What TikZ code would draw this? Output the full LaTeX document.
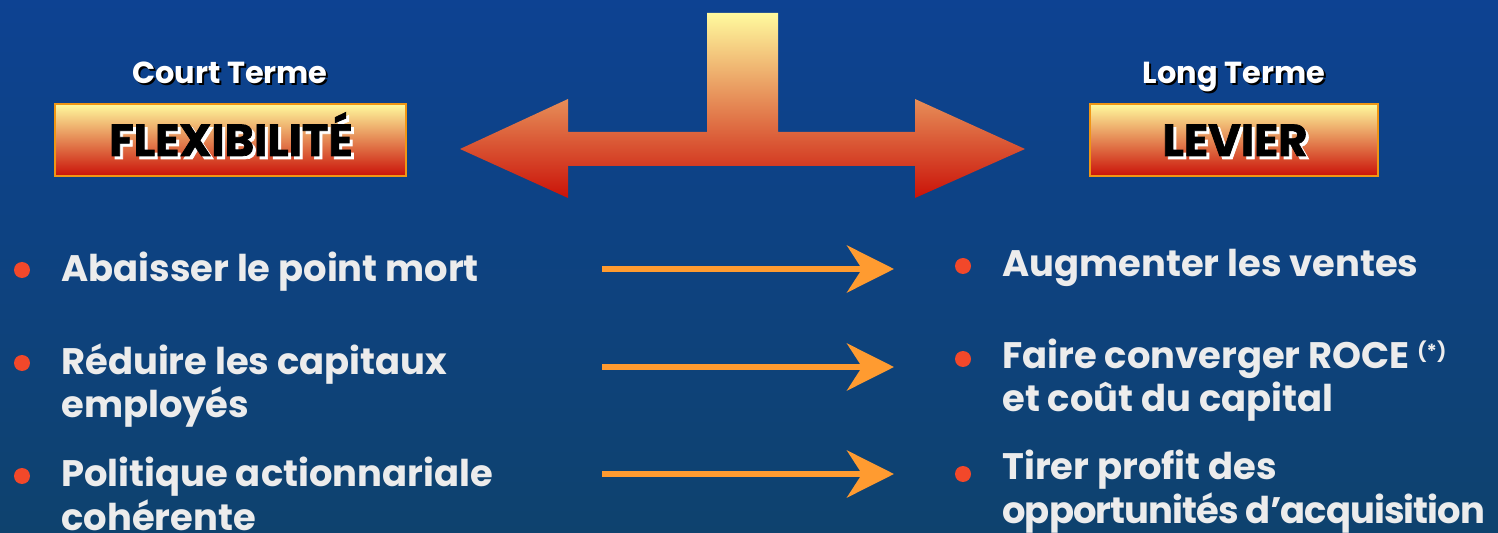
\documentclass[tikz,border=0pt]{standalone}
\usepackage{fontspec}
\setmainfont{Poppins}
\usetikzlibrary{arrows.meta}

\begin{document}
\begin{tikzpicture}[x=0.02cm,y=-0.02cm]
  \definecolor{cbgtop}{RGB}{13,66,146}
  \definecolor{cbgmid}{RGB}{16,86,158}
  \definecolor{cbgbot}{RGB}{14,66,110}
  \definecolor{cyel}{RGB}{255,250,158}
  \definecolor{corg}{RGB}{236,170,105}
  \definecolor{cred}{RGB}{202,18,8}
  \definecolor{cframe}{RGB}{240,150,20}
  \definecolor{carrow}{RGB}{255,155,48}
  \definecolor{cdot}{RGB}{242,72,42}
  \definecolor{ctext}{RGB}{236,236,236}
  \tikzset{
    termbox/.style={draw=cframe,line width=0.04cm,top color=cyel,middle color=corg,
      bottom color=cred,minimum height=1.44cm,inner sep=0pt},
    boxlbl/.style={anchor=base,font=\fontsize{25.5}{28}\selectfont\bfseries\addfontfeature{FakeBold=1.5}},
    headlbl/.style={anchor=base,font=\fontsize{17.3}{22}\selectfont\bfseries},
    dot/.style={circle,fill=cdot,minimum size=0.32cm,inner sep=0pt},
    item/.style={anchor=base west,align=left,text=ctext,inner sep=0pt,
      font=\fontsize{21}{25}\selectfont\bfseries},
    linkarrow/.style={carrow,line width=0.12cm,
      -{Stealth[length=0.94cm,width=0.94cm,inset=0.3cm]}}
  }
  \useasboundingbox (0,0) rectangle (1498,533);
  \shade[top color=cbgtop,middle color=cbgmid,bottom color=cbgbot] (0,0) rectangle (1498,533);
  % big double arrow with stem
  \shade[top color=cyel,middle color=corg,bottom color=cred]
    (460,149) -- (568,99) -- (568,132) -- (707,132) -- (707,13) -- (778,13)
    -- (778,132) -- (915,132) -- (915,99) -- (1025,149) -- (915,198)
    -- (915,166) -- (568,166) -- (568,198) -- cycle;
  % headers
  \node[headlbl,text=black] (courtsh) at (232,86) {Court Terme};
  \node[headlbl,text=white] (court) at (230,84) {Court Terme};
  \node[headlbl,text=black] (longsh) at (1236,86) {Long Terme};
  \node[headlbl,text=white] (long) at (1234,84) {Long Terme};
  % boxes
  \node[termbox,minimum width=7.02cm] (flex) at (230.5,140) {};
  \node[boxlbl,text=white] (flexsh) at (234,159) {FLEXIBILITÉ};
  \node[boxlbl] (flexlbl) at (231,156) {FLEXIBILITÉ};
  \node[termbox,minimum width=5.76cm] (levier) at (1234,140) {};
  \node[boxlbl,text=white] (leviersh) at (1238,159) {LEVIER};
  \node[boxlbl] (levierlbl) at (1235,156) {LEVIER};
  % left column
  \node[dot] (bl1) at (22,270) {};
  \node[dot] (bl2) at (22,363) {};
  \node[dot] (bl3) at (22,476) {};
  \node[item] (l1) at (61,282) {Abaisser le point mort};
  \node[item] (l2) at (61,418) {Réduire les capitaux\\employés};
  \node[item] (l3) at (61,530) {Politique actionnariale\\cohérente};
  % right column
  \node[dot] (br1) at (963,266) {};
  \node[dot] (br2) at (963,359) {};
  \node[dot] (br3) at (963,474) {};
  \node[item] (r1) at (1002,277) {Augmenter les ventes};
  \node[item] (r2) at (1002,412) {Faire converger ROCE {\fontsize{11}{13}\selectfont\raisebox{0.5em}{(*)}}\\et coût du capital};
  \node[item] (r3) at (1002,523) {Tirer profit des\\{\addfontfeature{LetterSpace=-2.5}opportunités d’acquisition}};
  % arrows
  \coordinate (a1) at (602,269);
  \coordinate (z1) at (894,269);
  \coordinate (a2) at (602,367);
  \coordinate (z2) at (894,367);
  \coordinate (a3) at (602,474);
  \coordinate (z3) at (894,474);
  \draw[linkarrow] (a1) -- (z1);
  \draw[linkarrow] (a2) -- (z2);
  \draw[linkarrow] (a3) -- (z3);
\end{tikzpicture}
\end{document}
